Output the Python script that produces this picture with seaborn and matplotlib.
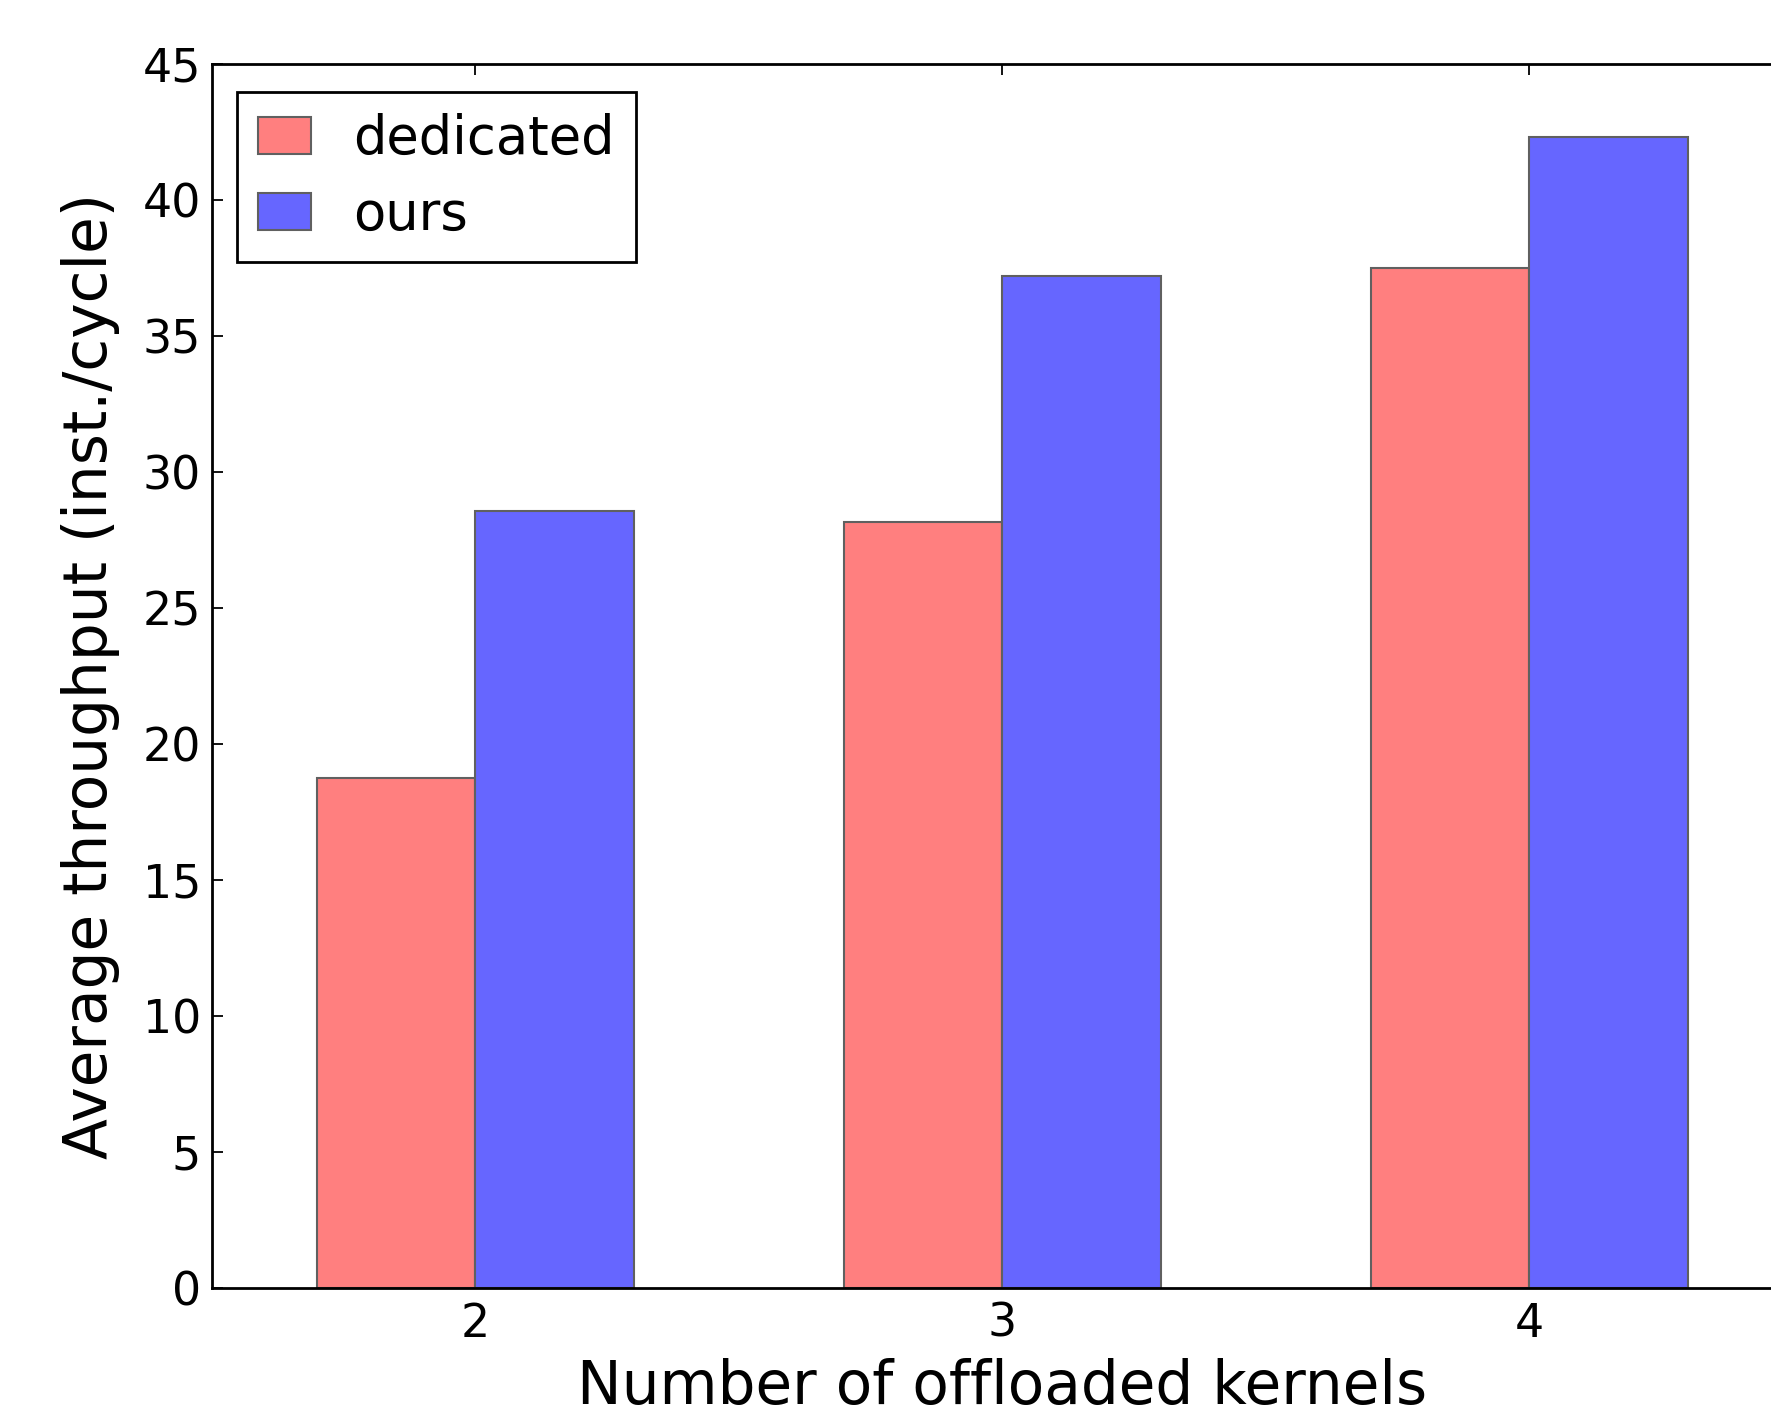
import matplotlib
matplotlib.use('Agg')
import matplotlib.pyplot as plt
import pandas as pd
import seaborn as sns

kernels = ['2', '3', '4']
dedicated = [18.75, 28.15, 37.5]
ours = [28.55, 37.2, 42.3]

df = pd.DataFrame({
    'kernels': kernels * 2,
    'throughput': dedicated + ours,
    'scheme': ['dedicated'] * 3 + ['ours'] * 3,
})

sns.set_style('white')
plt.rcParams['font.family'] = ['DejaVu Sans']
plt.rcParams['text.color'] = 'black'
plt.rcParams['axes.labelcolor'] = 'black'
plt.rcParams['xtick.color'] = 'black'
plt.rcParams['ytick.color'] = 'black'

fig = plt.figure(figsize=(17.71, 14.19), dpi=100)
ax = fig.add_axes([0.1197, 0.0923, 0.8927, 0.8626])

sns.barplot(data=df, x='kernels', y='throughput', hue='scheme',
            palette={'dedicated': '#ff7f7f', 'ours': '#6666ff'},
            width=0.6, edgecolor='#606060', linewidth=1.5,
            saturation=1, ax=ax, errorbar=None)

ax.set_xlim(-0.5, 2.5)
ax.set_ylim(0, 45)
ax.set_yticks(range(0, 46, 5))
ax.set_xlabel('Number of offloaded kernels', fontsize=43, labelpad=8)
ax.set_ylabel('Average throughput (inst./cycle)', fontsize=43, labelpad=16)
ax.tick_params(axis='both', labelsize=33, direction='in', length=8, width=1.3,
               top=True, right=True, bottom=True, left=True, colors='black')
ax.tick_params(axis='x', pad=10)
ax.tick_params(axis='y', pad=8)
for s in ax.spines.values():
    s.set_color('black')
    s.set_linewidth(2)

leg = ax.legend(loc='upper left', fontsize=38, fancybox=False, framealpha=1,
                edgecolor='black', handlelength=1.0, handleheight=0.7,
                borderpad=0.4, labelspacing=0.45, handletextpad=0.8,
                borderaxespad=0, bbox_to_anchor=(0.0157, 0.977))
leg.get_frame().set_linewidth(2)
for t in leg.get_texts():
    t.set_color('black')

fig.savefig('out.png', dpi=100, facecolor='white')
